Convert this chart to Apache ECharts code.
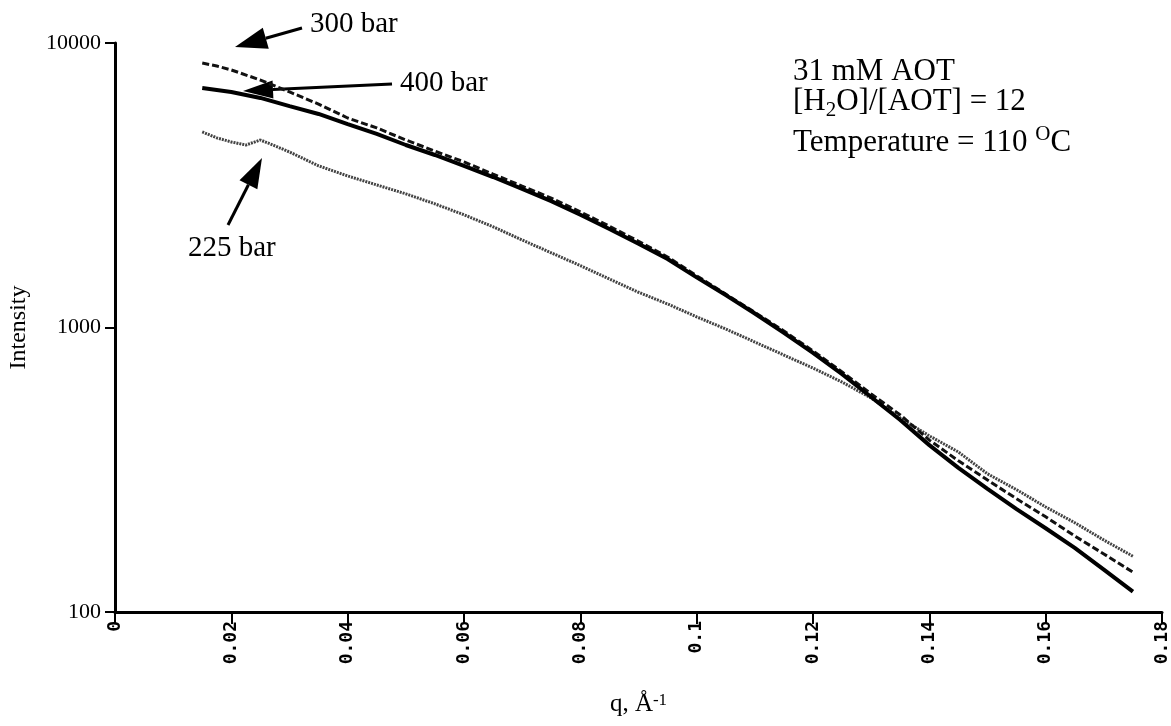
<!DOCTYPE html>
<html>
<head>
<meta charset="utf-8">
<script src="https://cdn.jsdelivr.net/npm/echarts@6/dist/echarts.min.js"></script>
<style>
  html, body { margin: 0; padding: 0; background: #fff; }
  #chart { width: 1171px; height: 726px; }
</style>
</head>
<body>
<div id="chart"></div>
<script>
// q values (1/Å) for the 300 and 400 bar curves
const q = [0.015, 0.0175, 0.02, 0.025, 0.03, 0.035, 0.04, 0.045, 0.05, 0.055, 0.06, 0.065,
  0.07, 0.075, 0.08, 0.085, 0.09, 0.095, 0.1, 0.105, 0.11, 0.115, 0.12, 0.125, 0.13, 0.135,
  0.14, 0.145, 0.15, 0.155, 0.16, 0.165, 0.17, 0.175]
// q values for 225 bar (extra points around the low-q bump)
const q225 = [0.015, 0.0175, 0.02, 0.0225, 0.025, 0.0275, 0.03, 0.035, 0.04, 0.045, 0.05,
  0.055, 0.06, 0.065, 0.07, 0.075, 0.08, 0.085, 0.09, 0.095, 0.1, 0.105, 0.11, 0.115, 0.12,
  0.125, 0.13, 0.135, 0.14, 0.145, 0.15, 0.155, 0.16, 0.165, 0.17, 0.175]

const i300 = [8500, 8300, 8040, 7410, 6730, 6100, 5450, 5030, 4560, 4170, 3820, 3460,
  3140, 2850, 2550, 2270, 2010, 1770, 1520, 1310, 1130, 972, 827, 698, 584, 493,
  402, 340, 291, 250, 216, 185, 160, 138]
const i400 = [6950, 6840, 6730, 6410, 6000, 5630, 5190, 4790, 4380, 4040, 3700, 3380,
  3070, 2780, 2490, 2220, 1970, 1740, 1500, 1300, 1120, 957, 814, 686, 570, 473,
  386, 321, 271, 230, 197, 168, 141, 118]
const i225 = [4870, 4640, 4490, 4380, 4560, 4350, 4140, 3700, 3410, 3170, 2950,
  2720, 2490, 2260, 2030, 1830, 1650, 1480, 1330, 1210, 1090, 988, 889, 800, 720,
  643, 565, 481, 416, 365, 306, 269, 234, 206, 179, 157]

const xTicks = { min: 0, max: 0.18, interval: 0.02 }
const yTicks = { min: 100, max: 10000 }

const SERIF = '"Liberation Serif", "DejaVu Serif", serif'
const MONO = '"DejaVu Sans Mono", monospace'

const pair = (xs, ys) => xs.map((x, i) => [x, ys[i]])

// measure text so sub/superscript pieces can be laid out side by side
const measureCtx = document.createElement('canvas').getContext('2d')
function textWidth(t, size) {
  measureCtx.font = size + 'px ' + SERIF
  return measureCtx.measureText(t).width
}

// parts: [text, size, dy]
function textLine(x, y, parts) {
  const out = []
  let cx = x
  parts.forEach(([t, size, dy]) => {
    out.push({
      type: 'text', x: cx, y: y + (dy || 0),
      style: { text: t, fill: '#000', font: size + 'px ' + SERIF, verticalAlign: 'middle', align: 'left' },
    })
    cx += textWidth(t, size)
  })
  return out
}

function arrow(x1, y1, x2, y2, head, half) {
  // shaft from (x1,y1), filled head with its tip at (x2,y2)
  const dx = x2 - x1, dy = y2 - y1
  const len = Math.hypot(dx, dy)
  const ux = dx / len, uy = dy / len
  const bx = x2 - ux * head, by = y2 - uy * head
  return [
    { type: 'line', shape: { x1, y1, x2: bx, y2: by }, style: { stroke: '#000', lineWidth: 3 } },
    { type: 'polygon', shape: { points: [[x2, y2], [bx - uy * half, by + ux * half], [bx + uy * half, by - ux * half]] },
      style: { fill: '#000' } },
  ]
}

const chart = echarts.init(document.getElementById('chart'), null, { renderer: 'canvas' })

chart.setOption({
  backgroundColor: '#fff',
  animation: false,
  grid: { left: 115, right: 9, top: 43, bottom: 114, containLabel: false, outerBoundsMode: 'none' },
  xAxis: {
    type: 'value', min: xTicks.min, max: xTicks.max, interval: xTicks.interval,
    name: 'q, Å{sup|-1}', nameLocation: 'middle', nameGap: 80,
    nameTextStyle: {
      color: '#000', fontSize: 25, fontFamily: SERIF,
      rich: { sup: { fontSize: 17, fontFamily: SERIF, lineHeight: 17, verticalAlign: 'top', padding: [0, 0, 16, 0] } },
    },
    axisLine: { lineStyle: { color: '#000', width: 3 } },
    axisTick: { show: true, length: 12, lineStyle: { color: '#000', width: 2 } },
    axisLabel: { color: '#000', rotate: 90, fontSize: 18, fontWeight: 'bold', fontFamily: MONO, margin: 9 },
    splitLine: { show: false },
  },
  yAxis: {
    type: 'log', logBase: 10, min: yTicks.min, max: yTicks.max,
    name: 'Intensity', nameLocation: 'middle', nameGap: 84,
    nameTextStyle: { color: '#000', fontSize: 24, fontFamily: SERIF },
    axisLine: { show: true, lineStyle: { color: '#000', width: 3 } },
    axisTick: { show: true, length: 10, lineStyle: { color: '#000', width: 2 } },
    minorTick: { show: false },
    axisLabel: { color: '#000', fontSize: 22, fontFamily: SERIF, margin: 14, formatter: v => String(v) },
    splitLine: { show: false },
  },
  series: [
    {
      name: '225 bar', type: 'line', showSymbol: false, data: pair(q225, i225),
      lineStyle: { color: '#444', width: 3, type: [2, 1] },
    },
    {
      name: '300 bar', type: 'line', showSymbol: false, data: pair(q, i300),
      lineStyle: { color: '#111', width: 3, type: [7, 3] },
    },
    {
      name: '400 bar', type: 'line', showSymbol: false, data: pair(q, i400),
      lineStyle: { color: '#000', width: 4 },
    },
  ],
  graphic: [
    ...textLine(310, 24, [['300 bar', 29]]),
    ...textLine(400, 83, [['400 bar', 29]]),
    ...textLine(188, 248, [['225 bar', 29]]),
    ...textLine(793, 72, [['31 mM AOT', 31]]),
    ...textLine(793, 102, [['[H', 31], ['2', 21, 8], ['O]/[AOT] = 12', 31]]),
    ...textLine(793, 143, [['Temperature = 110 ', 31], ['O', 21, -9], ['C', 31]]),
    ...arrow(302, 28, 235, 47, 32, 11),
    ...arrow(392, 84, 243, 91, 30, 9),
    ...arrow(228, 225, 262, 158, 30, 10),
  ],
})
</script>
</body>
</html>
